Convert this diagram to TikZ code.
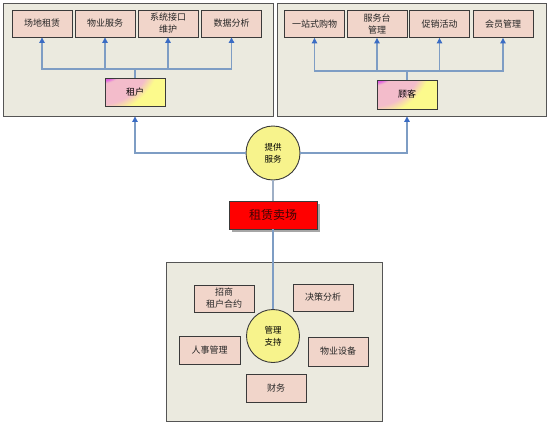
\documentclass[tikz,border=0pt]{standalone}
\usepackage{fontspec}
\newfontfamily\cjk{Noto Sans CJK SC}
\usetikzlibrary{arrows.meta,shadows}
\definecolor{panelfill}{HTML}{EBEADF}
\definecolor{panelline}{HTML}{555555}
\definecolor{boxfill}{HTML}{F1D5CA}
\definecolor{boxline}{HTML}{3A3A3A}
\definecolor{connc}{HTML}{7E9DC4}
\definecolor{connlight}{HTML}{9EAFC6}
\definecolor{tipc}{HTML}{3A6CC4}
\definecolor{circfill}{HTML}{F7F38C}
\definecolor{hyellow}{HTML}{FCFA8C}
\definecolor{hpink}{HTML}{F3BCCB}
\definecolor{hmag}{HTML}{E060E0}
\pgfdeclareradialshading{hubshade}{\pgfpoint{0bp}{0bp}}{color(0bp)=(hmag); color(8.6bp)=(hmag); color(9.6bp)=(hpink); color(16bp)=(hpink); color(19bp)=(hyellow); color(50bp)=(hyellow)}
\begin{document}
\begin{tikzpicture}[x=1pt,y=-1pt,
  panel/.style={draw=panelline,fill=panelfill,line width=0.9pt,inner sep=0pt},
  box/.style={draw=boxline,fill=boxfill,line width=0.9pt,minimum width=60pt,minimum height=27pt,inner sep=1pt,align=center,font=\cjk\fontsize{9}{12}\selectfont,text=black!85},
  hub/.style={draw=boxline,line width=0.9pt,minimum width=60pt,minimum height=28pt,inner sep=1pt,font=\cjk\fontsize{9}{12}\selectfont,fill=hyellow,
    path picture={\shade[shading=hubshade] ([xshift=-5pt,yshift=25pt]path picture bounding box.north west) circle (80pt);}},
  circ/.style={circle,draw=boxline,fill=circfill,line width=0.9pt,inner sep=0pt,align=center,font=\cjk\fontsize{8.5}{12}\selectfont},
  conn/.style={draw=connc,line width=1.1pt},
  arr/.style={conn,-{Triangle[length=5.5pt,width=5.5pt,color=tipc]}},
  light/.style={draw=connlight,line width=1.1pt}
]
\useasboundingbox[fill=white] (0,0) rectangle (550,426);

% panels
\node[panel,minimum width=270pt,minimum height=113pt] (pL) at (138,59.5) {};
\node[panel,minimum width=269pt,minimum height=113pt] (pR) at (411.5,59.5) {};
\node[panel,minimum width=216pt,minimum height=159pt] (pB) at (274,341.5) {};

% left panel
\node[box] (l1) at (42,23.5) {场地租赁};
\node[box] (l2) at (105,23.5) {物业服务};
\node[box] (l3) at (168,23.5) {系统接口\\维护};
\node[box] (l4) at (231.5,23.5) {数据分析};
\node[hub] (zuhu) at (135,92) {租户};
\coordinate (lbar) at (135,69);
\draw[conn] (zuhu.north) -- (lbar);
\foreach \b in {l1,l2,l3,l4} \draw[arr] (lbar) -| (\b.south);

% right panel
\node[box] (r1) at (314.5,24) {一站式购物};
\node[box] (r2) at (377,24) {服务台\\管理};
\node[box] (r3) at (439.5,24) {促销活动};
\node[box] (r4) at (503,24) {会员管理};
\node[hub,minimum height=29pt] (guke) at (407,94.5) {顾客};
\coordinate (rbar) at (407,71);
\draw[conn] (guke.north) -- (rbar);
\foreach \b in {r1,r2,r3,r4} \draw[arr] (rbar) -| (\b.south);

% center
\node[circ,minimum size=54pt] (tg) at (273,153) {提供\\服务};
\draw[arr] (tg.west) -| (zuhu.south |- pL.south);
\draw[arr] (tg.east) -| (guke.south |- pR.south);

\node[draw=boxline,fill=red,line width=0.9pt,minimum width=88pt,minimum height=28pt,
  drop shadow={shadow xshift=3pt,shadow yshift=-3pt,fill=black!35,opacity=1},
  font=\cjk\fontsize{12}{14}\selectfont,text={rgb,255:red,60;green,5;blue,5}] (zl) at (273,215) {租赁卖场};
\draw[light] (tg.south) -- (zl.north);

% bottom panel
\node[circ,minimum size=53pt] (gl) at (273,336) {管理\\支持};
\draw[conn] (zl.south) -- (gl.north);
\node[box] (b1) at (224,298.5) {招商\\租户合约};
\node[box] (b2) at (323,297.5) {决策分析};
\node[box,minimum width=61pt,minimum height=28pt] (b3) at (209.5,350) {人事管理};
\node[box,minimum height=29pt] (b4) at (338,351.5) {物业设备};
\node[box,minimum height=28pt] (b5) at (276,388) {财务};
\end{tikzpicture}
\end{document}
